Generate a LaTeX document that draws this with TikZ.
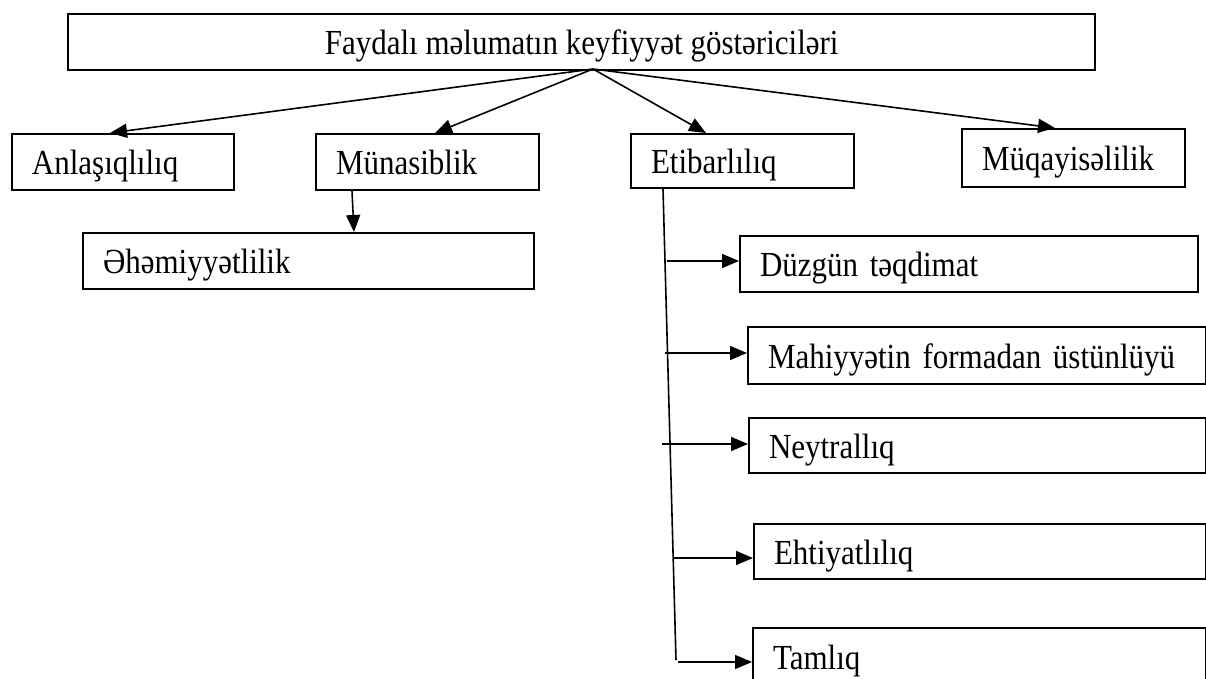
\documentclass[tikz,border=0pt]{standalone}
\usepackage{fontspec}
\setmainfont{Liberation Serif}[FakeStretch=0.88]
\usetikzlibrary{arrows.meta}
\tikzset{
  box/.style={draw=black, line width=1pt, rectangle, anchor=north west,
    inner xsep=10pt, inner ysep=0pt, align=left,
    text height=15pt, text depth=2pt},
  arr/.style={draw=black, line width=0.8pt, -{Triangle[length=8.5pt,width=7pt]}},
  plain/.style={draw=black, line width=0.8pt}
}
\begin{document}
\begin{tikzpicture}[x=0.5pt,y=-0.5pt,font=\fontsize{17.6pt}{21pt}\selectfont]
\clip (0,0) rectangle (1206,679);
\fill[white] (0,0) rectangle (1206,679);
% top box
\node[draw=black, line width=1.2pt, rectangle, anchor=north west,
  minimum width=513.5pt, minimum height=28pt, inner sep=0pt,
  text height=15pt, text depth=2.5pt] (top) at (67,13)
  {Faydalı məlumatın keyfiyyət göstəriciləri};
\coordinate (apex) at (593,69);
% second row
\node[box, minimum width=111pt, minimum height=28pt, text width=91pt] (anl) at (11,133) {Anlaşıqlılıq};
\node[box, minimum width=111.5pt, minimum height=28pt, text width=91.5pt] (mun) at (315,133) {Münasiblik};
\node[box, minimum width=111.5pt, minimum height=27pt, text width=91.5pt] (eti) at (630,133) {Etibarlılıq};
\node[box, minimum width=111.5pt, minimum height=29pt, text width=91.5pt] (muq) at (961,128) {Müqayisəlilik};
% under Münasiblik
\node[box, minimum width=225.5pt, minimum height=28pt, text width=205.5pt] (ehe) at (82,232) {Əhəmiyyətlilik};
% under Etibarlılıq
\node[box, minimum width=229pt, minimum height=28pt, text width=209pt] (dz) at (739,235) {Düzgün təqdimat};
\node[box, minimum width=229pt, minimum height=28.5pt, text width=209pt] (mah) at (747,326) {Mahiyyətin formadan üstünlüyü};
\node[box, minimum width=228.5pt, minimum height=27.5pt, text width=208.5pt] (ney) at (748,417) {Neytrallıq};
\node[box, minimum width=226pt, minimum height=27.5pt, text width=206pt] (eht) at (753,523) {Ehtiyatlılıq};
\node[box, minimum width=226.5pt, minimum height=28pt, text width=206.5pt] (tam) at (752,627) {Tamlıq};
% arrows from the top box
\draw[arr] (apex) -- ([xshift=49.5pt]anl.north west);
\draw[arr] (apex) -- ([xshift=60pt]mun.north west);
\draw[arr] (apex) -- ([xshift=38pt]eti.north west);
\draw[arr] (apex) -- ([xshift=47pt]muq.north west);
% Münasiblik -> Əhəmiyyətlilik
\draw[arr] ([xshift=18.5pt]mun.south west) -- ([xshift=136pt]ehe.north west);
% Etibarlılıq trunk
\coordinate (vend) at (676,660);
\draw[plain] ([xshift=16.5pt]eti.south west) -- (vend);
\coordinate (b1) at (667,261);
\coordinate (b2) at (665,353);
\coordinate (b3) at (662,444);
\coordinate (b4) at (673,558);
\coordinate (b5) at (678,662);
\draw[arr] (b1) -- (b1 -| dz.west);
\draw[arr] (b2) -- (b2 -| mah.west);
\draw[arr] (b3) -- (b3 -| ney.west);
\draw[arr] (b4) -- (b4 -| eht.west);
\draw[arr] (b5) -- (b5 -| tam.west);
\end{tikzpicture}
\end{document}
